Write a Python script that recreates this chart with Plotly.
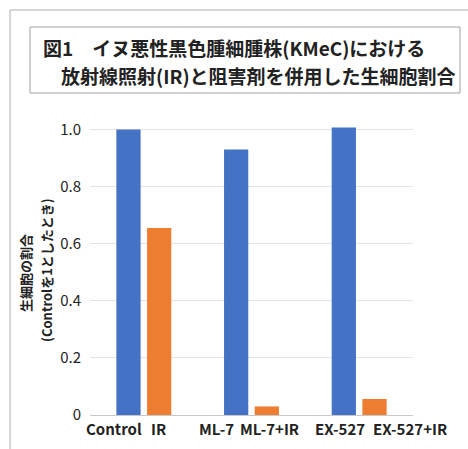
import plotly.graph_objects as go

# Treatment groups and normalized viable-cell ratios (Control = 1)
groups = ["Control", "ML-7", "EX-527"]
no_ir_labels = ["Control", "ML-7", "EX-527"]
ir_labels = ["IR", "ML-7+IR", "EX-527+IR"]
no_ir_values = [1.0, 0.93, 1.007]
ir_values = [0.655, 0.03, 0.056]

y_ticks = [0, 0.2, 0.4, 0.6, 0.8, 1.0]
y_tick_text = ["0", "0.2", "0.4", "0.6", "0.8", "1.0"]

title_line1 = "図1　イヌ悪性黒色腫細腫株(KMeC)における"
title_line2 = "放射線照射(IR)と阻害剤を併用した生細胞割合"
y_title_line1 = "生細胞の割合"
y_title_line2 = "(Controlを1としたとき)"

# horizontal offsets (px) of the label pairs under each group
label_shift_a = [-30, -35, -19]
label_shift_b = [15, 18, 51]

FONT = "Noto Sans CJK JP"
TEXT = "#222222"

fig = go.Figure()
fig.add_trace(go.Bar(x=groups, y=no_ir_values, marker_color="#4472C4",
                     marker_line_width=0, showlegend=False))
fig.add_trace(go.Bar(x=groups, y=ir_values, marker_color="#ED7D31",
                     marker_line_width=0, showlegend=False))

W, H = 468, 449
L, R, T, B = 90, 55, 101, 34
pw, ph = W - L - R, H - T - B


def px(x):
    return (x - L) / pw


def py(y):
    return (H - B - y) / ph


# category labels under the bars
for g, a, b, sa, sb in zip(groups, no_ir_labels, ir_labels,
                           label_shift_a, label_shift_b):
    for lab, shift in ((a, sa), (b, sb)):
        fig.add_annotation(x=g, y=py(428), xref="x", yref="paper",
                           yanchor="middle", xanchor="center",
                           xshift=shift, text=f"<b>{lab}</b>",
                           showarrow=False,
                           font=dict(family=FONT, size=15, color=TEXT))

# outer frame (top and left edges)
fig.add_shape(type="line", xref="paper", yref="paper",
              x0=px(10), x1=px(470), y0=py(10), y1=py(10),
              line=dict(color="#b0b0b0", width=1))
fig.add_shape(type="line", xref="paper", yref="paper",
              x0=px(10), x1=px(10), y0=py(10), y1=py(452),
              line=dict(color="#b0b0b0", width=1))

# title box
fig.add_shape(type="rect", xref="paper", yref="paper",
              x0=px(30), x1=px(460), y0=py(27), y1=py(93),
              line=dict(color="#a0a0a0", width=1))
fig.add_annotation(x=px(41), y=py(47), xref="paper", yref="paper",
                   xanchor="left", yanchor="middle", showarrow=False,
                   text=f"<b>{title_line1}</b>",
                   font=dict(family=FONT, size=19, color=TEXT))
fig.add_annotation(x=px(59), y=py(75), xref="paper", yref="paper",
                   xanchor="left", yanchor="middle", showarrow=False,
                   text=f"<b>{title_line2}</b>",
                   font=dict(family=FONT, size=19, color=TEXT))

# y-axis title, two rotated lines
fig.add_annotation(x=px(25), y=py(273), xref="paper", yref="paper",
                   xanchor="center", yanchor="middle",
                   textangle=-90, showarrow=False,
                   text=f"<b>{y_title_line1}</b>",
                   font=dict(family=FONT, size=13, color=TEXT))
fig.add_annotation(x=px(46), y=py(270), xref="paper", yref="paper",
                   xanchor="center", yanchor="middle",
                   textangle=-90, showarrow=False,
                   text=f"<b>{y_title_line2}</b>",
                   font=dict(family=FONT, size=13, color=TEXT))

fig.update_layout(
    width=W, height=H,
    margin=dict(l=L, r=R, t=T, b=B),
    paper_bgcolor="white", plot_bgcolor="white",
    barmode="group", bargap=0.43, bargroupgap=0.21,
    xaxis=dict(range=[-0.5, 2.5], showticklabels=False, showline=True,
               linecolor="#c8c8c8", linewidth=1, ticks=""),
    yaxis=dict(range=[0, 1.1], tickvals=y_ticks, ticktext=y_tick_text,
               showgrid=True, gridcolor="#e4e4e4", zeroline=False,
               tickfont=dict(family=FONT, size=15, color=TEXT),
               ticks="", ticklabelstandoff=8),
    font=dict(family=FONT),
)

fig.write_html("out.html")
